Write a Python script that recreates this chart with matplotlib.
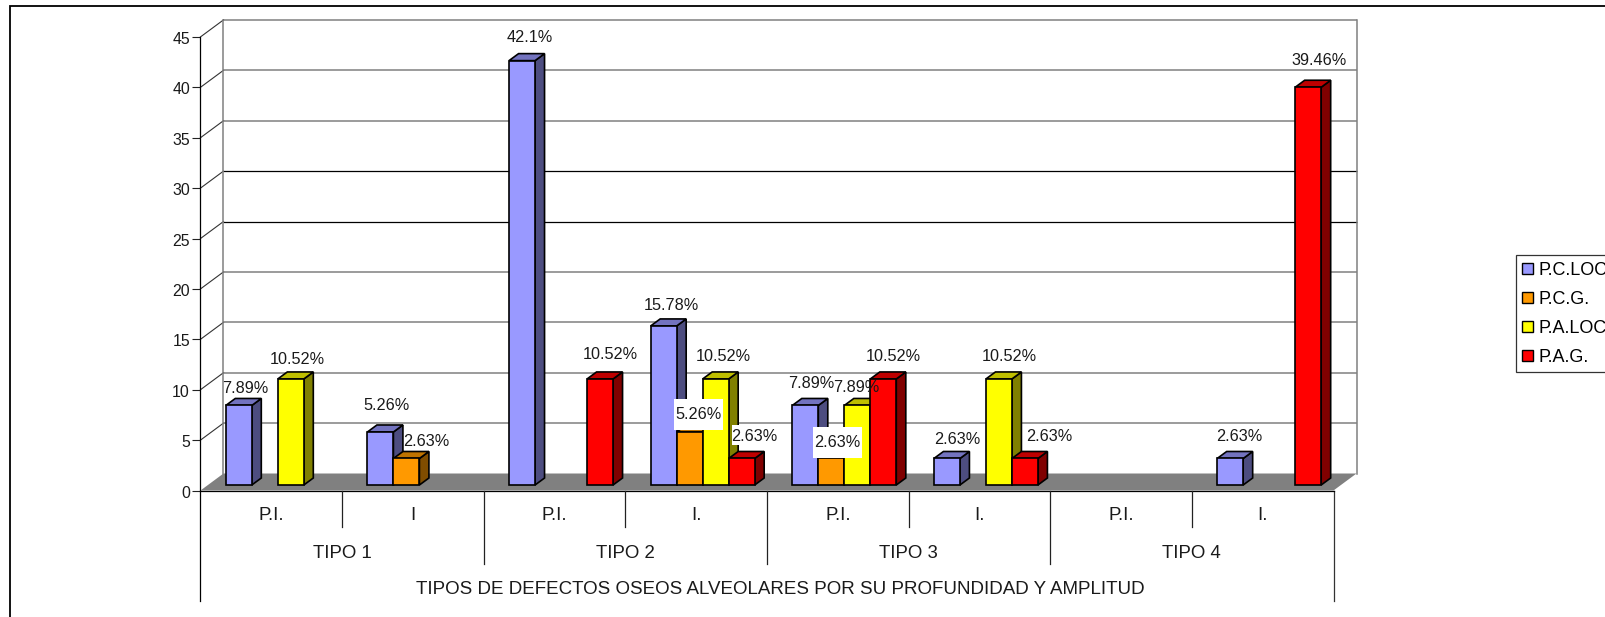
import matplotlib
matplotlib.use("Agg")
import matplotlib.pyplot as plt
from matplotlib.patches import Patch, Rectangle
from matplotlib.transforms import ScaledTranslation

plt.rcParams['font.family'] = ['Liberation Sans', 'DejaVu Sans']

subgroups = ["P.I.", "I", "P.I.", "I.", "P.I.", "I.", "P.I.", "I."]
tipos = ["TIPO 1", "TIPO 2", "TIPO 3", "TIPO 4"]
x_title = "TIPOS DE DEFECTOS OSEOS ALVEOLARES POR SU PROFUNDIDAD Y AMPLITUD"
series_names = ["P.C.LOC.", "P.C.G.", "P.A.LOC.", "P.A.G."]

pc_loc = [7.89, 5.26, 42.1, 15.78, 7.89, 2.63, 0, 2.63]
pc_g = [0, 2.63, 0, 5.26, 2.63, 0, 0, 0]
pa_loc = [10.52, 0, 0, 10.52, 7.89, 10.52, 0, 0]
pa_g = [0, 0, 10.52, 2.63, 10.52, 2.63, 0, 39.46]
series_values = [pc_loc, pc_g, pa_loc, pa_g]
yticks = list(range(0, 50, 5))

front = ["#9999ff", "#ff9900", "#ffff00", "#ff0000"]
top = ["#7373bf", "#bf7300", "#bfbf00", "#bf0000"]
side = ["#4d4d80", "#804d00", "#808000", "#800000"]

# label nudges in pixels from the top centre of each bar: (series, category) -> (dx, dy)
label_nudge = {
    (0, 0): (6, 18), (2, 0): (7, 21), (0, 1): (6, 28), (1, 1): (20, 18),
    (0, 2): (8, 24), (3, 2): (10, 26), (0, 3): (7.5, 22), (1, 3): (8.5, 18.5),
    (2, 3): (8, 23.5), (3, 3): (13, 23), (0, 4): (6, 23), (1, 4): (6, 17),
    (2, 4): (-1, 19), (3, 4): (10, 23.5), (0, 5): (10, 20), (2, 5): (10, 23.5),
    (3, 5): (24, 23), (0, 7): (9, 23), (3, 7): (11, 28),
}
# white label backgrounds: width, height, downward shift, all in pixels
white_box = {(1, 3): (49, 31, 1.5), (1, 4): (49, 31, 1.5), (3, 3): (46, 20, 0)}

W, H = 1606, 617
fig = plt.figure(figsize=(W / 100, H / 100), dpi=100, facecolor="white")

# outer frame runs off the right and bottom edges of the picture
fig.add_artist(Rectangle((10 / W, -0.1), 1.2, (H - 6) / H + 0.1, transform=fig.transFigure,
                         fill=False, edgecolor="black", linewidth=1.3))

L, R, Y0, Y45 = 200.5, 1333.5, 490.5, 36.9
ax = fig.add_axes([L / W, (H - Y0) / H, (R - L) / W, (Y0 - Y45) / H])
ax.set_xlim(0, 8)
ax.set_ylim(0, 45)
ax.patch.set_visible(False)
for s in ("top", "right", "bottom", "left"):
    ax.spines[s].set_visible(False)

px_x = (R - L) / 8
px_y = (Y0 - Y45) / 45
wall_dx, wall_dy = 23 / px_x, 17 / px_y
GRAY = "#808080"
TEXT = "#1a1a1a"

# floor
ax.fill([0, 8, 8 + wall_dx, wall_dx], [0, 0, wall_dy, wall_dy], color=GRAY, lw=0, clip_on=False, zorder=1)

# walls and gridlines
for v in yticks[1:]:
    c = "black" if v in (25, 30) else GRAY
    lw = 0.9 if v in (25, 30) else 1.1
    ax.plot([wall_dx, 8 + wall_dx], [v + wall_dy] * 2, color=c, lw=lw, clip_on=False, zorder=2,
            solid_capstyle="butt")
    ax.plot([0, wall_dx], [v, v + wall_dy], color="#333333", lw=0.8, clip_on=False, zorder=2)
for xv in (wall_dx, 8 + wall_dx):
    ax.plot([xv, xv], [wall_dy, 45 + wall_dy], color=GRAY, lw=1.1, clip_on=False, zorder=2)

# value axis
ax.set_yticks(yticks)
ax.tick_params(axis="y", length=5.6, width=0.8, pad=2, labelsize=11.4, color="#222222", labelcolor=TEXT)
ax.set_xticks([])
shift_down = ScaledTranslation(0, -1 / 100, fig.dpi_scale_trans)
for lab in ax.get_yticklabels():
    lab.set_transform(lab.get_transform() + shift_down)

below = lambda px: -px / px_y
ax.plot([0, 0], [45, below(110.5)], color="black", lw=0.9, clip_on=False, zorder=2)
ax.plot([8, 8], [0, below(110.5)], color="#333333", lw=0.9, clip_on=False, zorder=2)
ax.plot([0, 8], [0, 0], color="black", lw=0.9, clip_on=False, zorder=2)
for i in range(1, 8):
    depth = 73.5 if i % 2 == 0 else 36
    ax.plot([i, i], [0, below(depth)], color="#222222", lw=0.9, clip_on=False, zorder=2)

# category labels
for i, t in enumerate(subgroups):
    ax.text(i + 0.5, below(25.5), t, ha="center", va="center", fontsize=13.4, color=TEXT)
for i, t in enumerate(tipos):
    ax.text(2 * i + 1, below(63), t, ha="center", va="center", fontsize=13.4, color=TEXT)
ax.text(4.095, below(99.5), x_title, ha="center", va="center", fontsize=13.5, color=TEXT)

# bars
slot = 26 / px_x
start = 25.3 / px_x
lift = 5.5 / px_y
bar_dx, bar_dy = 9.5 / px_x, 7 / px_y
for s, vals in enumerate(series_values):
    for i, v in enumerate(vals):
        if v == 0:
            continue
        x0 = i + start + s * slot
        x1 = x0 + slot
        yt = lift + v
        z = 3 + s + i * 0.01
        ax.fill([x1, x1 + bar_dx, x1 + bar_dx, x1], [lift, lift + bar_dy, yt + bar_dy, yt],
                facecolor=side[s], edgecolor="black", lw=1.2, clip_on=False, zorder=z)
        ax.fill([x0, x1, x1 + bar_dx, x0 + bar_dx], [yt, yt, yt + bar_dy, yt + bar_dy],
                facecolor=top[s], edgecolor="black", lw=1.2, clip_on=False, zorder=z)
        ax.bar(x0, v, slot, bottom=lift, align="edge", color=front[s], edgecolor="black",
               linewidth=1.2, clip_on=False, zorder=z)

# data labels
for (s, i), (dx, dy) in label_nudge.items():
    v = series_values[s][i]
    xc = i + start + (s + 0.5) * slot
    yc = lift + v
    if (s, i) in white_box:
        bw, bh, shift = white_box[(s, i)]
        cx = xc + dx / px_x
        cy = yc + (dy - shift) / px_y
        ax.add_patch(Rectangle((cx - bw / 2 / px_x, cy - bh / 2 / px_y), bw / px_x, bh / px_y,
                               facecolor="white", edgecolor="none", clip_on=False, zorder=19))
    ax.annotate(f"{v:g}%", xy=(xc, yc), xytext=(dx, dy - 1.2),
                textcoords="offset pixels", ha="center", va="center", fontsize=11.7,
                color=TEXT, zorder=20, annotation_clip=False)

# legend, cut by the right edge of the picture as in the source
handles = [Patch(facecolor=front[k], edgecolor="black", linewidth=1.0) for k in range(4)]
leg = fig.legend(handles, series_names, loc="upper left",
                 bbox_to_anchor=(1516 / W, (H - 255.3) / H), bbox_transform=fig.transFigure,
                 fontsize=13, frameon=True, fancybox=False, framealpha=1, edgecolor="#333333",
                 borderaxespad=0, borderpad=0.36, labelspacing=0.66,
                 handlelength=0.56, handleheight=0.56, handletextpad=0.34)
leg.get_frame().set_linewidth(0.9)

fig.savefig("out.png", dpi=100)
